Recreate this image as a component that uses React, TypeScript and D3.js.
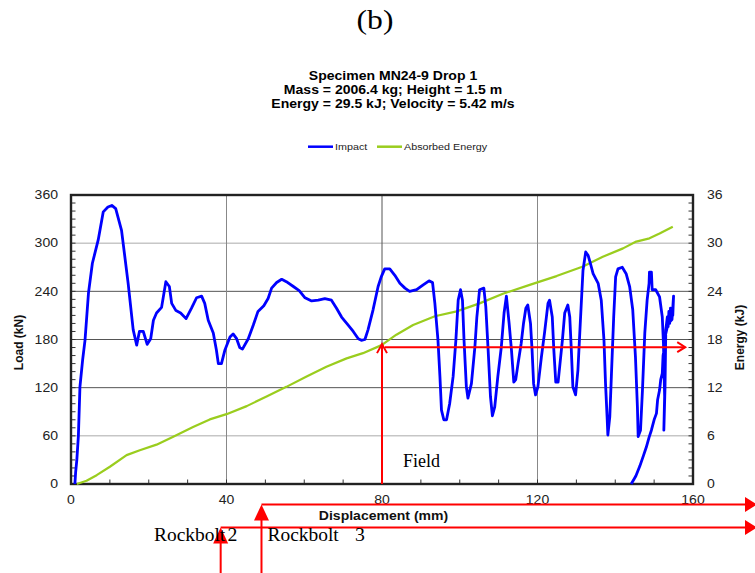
import { useEffect, useRef } from "react";
import * as d3 from "d3";

const panelLabel = "(b)";
const titleLines = [
  "Specimen MN24-9 Drop 1",
  "Mass = 2006.4 kg; Height = 1.5 m",
  "Energy = 29.5 kJ; Velocity = 5.42 m/s",
];
const legendItems = [
  { label: "Impact", color: "#0000ff" },
  { label: "Absorbed Energy", color: "#9acd1e" },
];
const dispTicks = [0, 40, 80, 120, 160];
const loadTicks = [0, 60, 120, 180, 240, 300, 360];
const energyTicks = [0, 6, 12, 18, 24, 30, 36];

// displacement (mm), load (kN)
const impactCurve: [number, number][] = [
  [1.0, 0], [1.2, 15], [1.5, 30], [1.9, 60], [2.3, 121], [3.0, 155], [3.6, 179],
  [4.5, 238], [5.5, 275], [7.0, 304], [8.3, 339], [9.5, 345], [10.5, 347], [11.5, 343],
  [13, 316], [14.7, 250], [16, 192], [16.9, 173], [17.6, 190], [18.6, 190], [19.6, 174],
  [20.5, 181], [21.2, 204], [22, 213], [23.3, 220], [24.4, 252], [25.3, 246], [25.9, 225],
  [27, 216], [28.2, 213], [29.6, 206], [31, 219], [32.3, 232], [33.6, 234], [34.4, 225],
  [35.3, 204], [36.6, 188], [37.4, 167], [37.9, 150], [38.7, 150], [39.6, 167], [40.9, 183],
  [41.7, 187], [42.6, 181], [43.4, 170], [44.1, 168], [45.6, 181], [46.9, 198], [48.1, 215],
  [49.6, 222], [50.7, 231], [51.6, 244], [52.9, 251], [54.2, 255], [55.4, 252], [57.2, 246],
  [58.7, 241], [60.2, 232], [61.9, 228], [63.6, 229], [65.3, 231], [67, 229], [68.3, 219],
  [69.6, 208], [71.3, 198], [72.6, 190], [73.9, 181], [74.7, 179], [75.6, 180], [76.4, 192],
  [77.7, 217], [79, 246], [79.8, 258], [80.7, 268], [82, 268], [83.3, 260], [84.6, 250],
  [85.9, 244], [87.1, 240], [88.9, 242], [90.6, 248], [92.1, 253], [93, 251], [93.6, 225],
  [94.4, 179], [94.9, 134], [95.3, 92], [95.9, 80], [96.6, 80], [97.4, 100], [98.3, 134],
  [99, 179], [99.6, 229], [100.2, 242], [100.7, 229], [101.1, 179], [101.7, 121], [102.1, 107],
  [103, 125], [103.9, 171], [104.4, 208], [105.1, 242], [106.2, 244], [106.7, 221], [107.3, 167],
  [107.9, 109], [108.4, 85], [109, 96], [109.8, 134], [110.7, 171], [111.4, 213], [112, 234],
  [112.7, 200], [113.3, 167], [113.9, 127], [114.4, 130], [115, 150], [115.8, 175], [116.4, 200],
  [117, 219], [117.5, 223], [118.2, 200], [118.6, 167], [119, 125], [119.5, 111], [120.1, 121],
  [121, 158], [121.8, 188], [122.7, 225], [123.1, 229], [123.8, 208], [124.2, 167], [124.7, 127],
  [125.3, 127], [125.7, 146], [126.4, 179], [127, 213], [127.8, 223], [128.3, 208], [128.7, 167],
  [129.1, 121], [129.8, 111], [130.4, 142], [131, 200], [131.7, 266], [132.4, 289], [133, 285],
  [133.6, 275], [134.3, 262], [135.6, 250], [136.4, 229], [137.1, 179], [137.5, 125], [137.9, 84],
  [138.1, 61], [138.6, 84], [139, 134], [139.6, 208], [140.1, 258], [140.7, 268], [141.8, 270],
  [142.8, 262], [143.7, 246], [144.5, 217], [145.2, 158], [145.7, 96], [145.9, 59], [146.5, 67],
  [147, 117], [147.6, 188], [148.2, 229], [148.7, 250], [148.8, 264], [149.3, 264], [149.5, 242],
  [150.4, 242], [151.4, 233], [152.1, 208], [152.4, 175], [152.7, 109], [152.5, 67], [152.8, 120],
  [153, 192], [153.4, 208], [153.6, 196], [153.8, 215], [154, 200], [154.2, 219], [154.4, 205],
  [154.6, 217], [154.8, 210], [155, 234], [154.6, 205], [153.6, 200], [152.9, 185], [152.7, 171],
  [152.3, 160], [152.1, 138], [151.7, 130], [151.4, 117], [150.9, 105], [150.6, 88], [150, 80],
  [149.3, 67], [148.7, 58], [148, 46], [147.3, 36], [146.3, 22], [145.3, 10], [144.1, 0],
];

// displacement (mm), absorbed energy (kJ)
const energyCurve: [number, number][] = [
  [1.5, 0], [4, 0.4], [6.6, 1.1], [10, 2.15], [14.3, 3.6], [17.7, 4.2], [22, 4.9],
  [26.3, 5.9], [31.4, 7.1], [35.7, 8.05], [40, 8.7], [45.2, 9.7], [50.3, 10.9], [55.4, 12.1],
  [60.6, 13.4], [65.7, 14.6], [70.9, 15.65], [75.1, 16.3], [79.9, 17.3], [83.7, 18.6],
  [88, 19.8], [93.6, 20.9], [99.2, 21.5], [105.1, 22.5], [111.1, 23.7], [118, 24.8],
  [124.9, 25.9], [131.7, 27.1], [136.8, 28.3], [142, 29.35], [145.4, 30.2], [148.8, 30.6],
  [151.4, 31.2], [154.8, 32.05],
];

// field marker: displacement (mm) and energy level (kJ)
const fieldMark = { disp: 80, energy: 17.05, label: "Field" };
const rockbolts = [
  { disp: 38.5, name: "Rockbolt", num: "2" },
  { disp: 49, name: "Rockbolt", num: "3" },
];

export default function App() {
  const ref = useRef<HTMLDivElement>(null);

  useEffect(() => {
    const W = 755, H = 573;
    const m = { top: 195, right: 62, bottom: 89, left: 71 };

    const svg = d3
      .select(ref.current)
      .html("")
      .append("svg")
      .attr("width", W)
      .attr("height", H)
      .style("display", "block")
      .style("background", "#fff")
      .attr("font-family", "Arial, 'Liberation Sans', sans-serif");

    const x = d3.scaleLinear().domain([0, 160]).range([m.left, W - m.right]);
    const yL = d3.scaleLinear().domain([0, 360]).range([H - m.bottom, m.top]);
    const yE = d3.scaleLinear().domain([0, 36]).range([H - m.bottom, m.top]);

    const txt = (px: number, py: number, s: string, o: any = {}) =>
      svg
        .append("text")
        .attr("transform", `translate(${px},${py}) scale(${o.sx ?? 1.17},1)`)
        .attr("text-anchor", o.anchor ?? "start")
        .attr("font-size", o.size ?? 12)
        .attr("font-weight", o.weight ?? "normal")
        .attr("font-family", o.family ?? null)
        .attr("fill", o.fill ?? "#000")
        .text(s);

    const serif = "'Liberation Serif', 'Times New Roman', serif";

    // panel label and title
    txt(375, 28.5, panelLabel, { size: 27, anchor: "middle", family: serif });
    titleLines.forEach((t, i) => txt(393, 80 + i * 14, t, { weight: "bold", anchor: "middle" }));

    // legend
    const legX = [308, 377];
    legendItems.forEach((d, i) => {
      svg.append("line")
        .attr("x1", legX[i]).attr("x2", legX[i] + 25)
        .attr("y1", 146.7).attr("y2", 146.7)
        .attr("stroke", d.color).attr("stroke-width", 2.5);
      txt(legX[i] + 27, 150, d.label, { size: 9.2, fill: "#222" });
    });

    // grid (the scan shows some lines darker than others)
    const darkLoad = [120, 180, 240];
    const grid = svg.append("g").attr("stroke-width", 1);
    grid.selectAll(".h").data(loadTicks.slice(1, -1)).join("line")
      .attr("x1", x(0)).attr("x2", x(160))
      .attr("y1", (d) => yL(d)).attr("y2", (d) => yL(d))
      .attr("stroke", (d) => (darkLoad.includes(d) ? "#555" : "#aaa"));
    grid.selectAll(".v").data(dispTicks.slice(1, -1)).join("line")
      .attr("y1", yL(0)).attr("y2", yL(360))
      .attr("x1", (d) => x(d)).attr("x2", (d) => x(d))
      .attr("stroke", (d) => (d === 80 ? "#555" : "#888"));

    // minor ticks
    const ticks = svg.append("g").attr("stroke", "#333").attr("stroke-width", 1);
    ticks.selectAll(".l").data(d3.range(0, 361, 10)).join("line")
      .attr("x1", x(0)).attr("x2", x(0) + 4.5)
      .attr("y1", (d) => yL(d)).attr("y2", (d) => yL(d));
    ticks.selectAll(".r").data(d3.range(0, 37, 1)).join("line")
      .attr("x1", x(160)).attr("x2", x(160) - 4.5)
      .attr("y1", (d) => yE(d)).attr("y2", (d) => yE(d));
    ticks.selectAll(".b").data(d3.range(0, 161, 10)).join("line")
      .attr("y1", yL(0)).attr("y2", yL(0) - 4.5)
      .attr("x1", (d) => x(d)).attr("x2", (d) => x(d));

    // frame
    svg.append("rect")
      .attr("x", x(0)).attr("y", yL(360))
      .attr("width", x(160) - x(0)).attr("height", yL(0) - yL(360))
      .attr("fill", "none").attr("stroke", "#222").attr("stroke-width", 2.4);

    // tick labels
    loadTicks.forEach((t) => txt(58, yL(t) + 4.3, String(t), { anchor: "end", fill: "#222" }));
    energyTicks.forEach((t) => txt(707, yE(t) + 4.3, String(t), { fill: "#222" }));
    dispTicks.forEach((t) => txt(x(t), 503.5, String(t), { anchor: "middle", fill: "#222" }));

    // axis titles
    txt(383.5, 520, "Displacement (mm)", { weight: "bold", anchor: "middle", fill: "#111" });
    svg.append("text")
      .attr("transform", `translate(23,342.5) rotate(-90)`)
      .attr("text-anchor", "middle").attr("font-size", 12).attr("font-weight", "bold")
      .attr("fill", "#111").text("Load (kN)");
    svg.append("text")
      .attr("transform", `translate(743.5,337.5) rotate(-90)`)
      .attr("text-anchor", "middle").attr("font-size", 12).attr("font-weight", "bold")
      .attr("fill", "#111").text("Energy (kJ)");

    // series
    const energyLine = d3.line<[number, number]>().x((d) => x(d[0])).y((d) => yE(d[1]));
    const loadLine = d3.line<[number, number]>().x((d) => x(d[0])).y((d) => yL(d[1]));

    svg.append("path").datum(energyCurve).attr("d", energyLine)
      .attr("fill", "none").attr("stroke", legendItems[1].color).attr("stroke-width", 2.2)
      .attr("stroke-linejoin", "round");
    svg.append("path").datum(impactCurve).attr("d", loadLine)
      .attr("fill", "none").attr("stroke", legendItems[0].color).attr("stroke-width", 2.8)
      .attr("stroke-linejoin", "round");

    // red annotations
    const red = svg.append("g").attr("stroke", "#ff0000").attr("stroke-width", 2).attr("fill", "none");
    const fx = x(fieldMark.disp);
    const fy = yE(fieldMark.energy);
    red.append("line").attr("x1", fx).attr("x2", fx).attr("y1", yL(0)).attr("y2", fy - 2);
    red.append("path").attr("d", `M${fx - 5},${fy + 6}L${fx},${fy - 3}L${fx + 5},${fy + 6}`);
    red.append("line").attr("x1", fx + 3).attr("x2", x(158)).attr("y1", fy).attr("y2", fy);
    red.append("path").attr("d", `M${x(158) - 8},${fy - 5}L${x(158)},${fy}L${x(158) - 8},${fy + 5}`);
    txt(403, 467, fieldMark.label, { size: 18, sx: 1, family: serif });

    const rowY = [527.5, 504.5];
    rockbolts.forEach((b, i) => {
      const bx = x(b.disp);
      const by = rowY[i];
      const textX = i === 0 ? 154 : 267.5;
      const numX = i === 0 ? 227.5 : 355;
      txt(textX, 540.7, b.name, { size: 18, sx: 1.08, family: serif });
      txt(numX, 540.7, b.num, { size: 18, sx: 1.1, family: serif });
      red.append("line").attr("x1", bx).attr("x2", bx).attr("y1", H).attr("y2", by + 10);
      red.append("path").attr("fill", "#ff0000").attr("stroke", "none")
        .attr("d", `M${bx},${by}L${bx + 7.5},${by + 16}L${bx - 7.5},${by + 16}Z`);
      red.append("line").attr("x1", bx).attr("x2", W - 10).attr("y1", by).attr("y2", by);
      red.append("path").attr("fill", "#ff0000").attr("stroke", "none")
        .attr("d", `M${W + 2},${by}L${W - 10},${by - 7.5}L${W - 10},${by + 7.5}Z`);
    });
  }, []);

  return <div ref={ref} style={{ position: "absolute", left: 0, top: 0 }}></div>;
}
